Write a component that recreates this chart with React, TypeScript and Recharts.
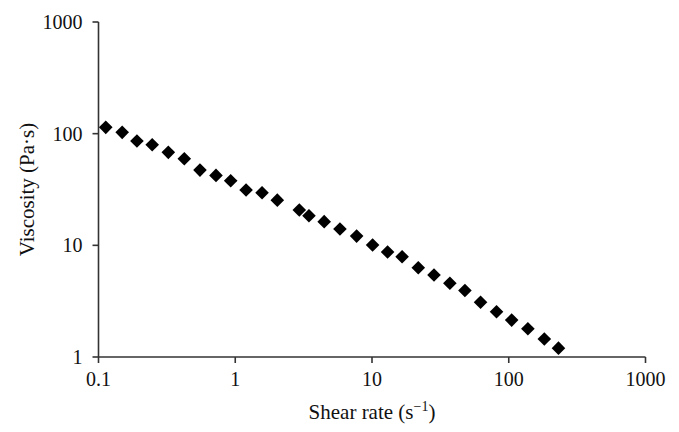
import React from "react";
import { ScatterChart, Scatter, XAxis, YAxis, Label } from "recharts";

const shearRate = [
  0.113, 0.149, 0.191, 0.247, 0.324, 0.424, 0.552, 0.723, 0.926, 1.2,
  1.57, 2.03, 2.94, 3.46, 4.47, 5.83, 7.72, 10.1, 13.0, 16.6,
  21.8, 28.4, 37.1, 47.8, 62.2, 81.4, 105, 138, 182, 231,
];
const viscosity = [
  113.9, 102.7, 85.9, 79.6, 68.0, 59.6, 47.2, 42.3, 37.9, 31.3,
  29.6, 25.4, 20.7, 18.4, 16.3, 14.0, 12.1, 10.06, 8.71, 7.91,
  6.3, 5.42, 4.57, 3.94, 3.09, 2.54, 2.14, 1.79, 1.45, 1.2,
];
const xTicks = [0.1, 1, 10, 100, 1000];
const yTicks = [1, 10, 100, 1000];
const xLabel = "Shear rate (s";
const xLabelSup = "\u22121";
const yLabel = "Viscosity (Pa\u00b7s)";

const data = shearRate.map((x, i) => ({ x, y: viscosity[i] }));

const FONT = "'Liberation Serif', 'DejaVu Serif', serif";
const AXIS = "#333";

const Diamond = (props: any) => {
  const { cx, cy } = props;
  const r = 6.8;
  return (
    <polygon
      points={`${cx},${cy - r} ${cx + r},${cy} ${cx},${cy + r} ${cx - r},${cy}`}
      fill="#000"
    />
  );
};

const XLabelContent = (props: any) => {
  const { viewBox } = props;
  const cx = viewBox.x + viewBox.width / 2;
  const y = viewBox.y + 62;
  return (
    <text x={cx} y={y} textAnchor="middle" fontFamily={FONT} fontSize={21} fill="#111">
      {xLabel}
      <tspan dy={-8} fontSize={14}>{xLabelSup}</tspan>
      <tspan dy={8}>)</tspan>
    </text>
  );
};

const YLabelContent = (props: any) => {
  const { viewBox } = props;
  const x = 34;
  const cy = viewBox.y + viewBox.height / 2;
  return (
    <text
      x={x}
      y={cy}
      textAnchor="middle"
      fontFamily={FONT}
      fontSize={21}
      fill="#111"
      transform={`rotate(-90 ${x} ${cy})`}
    >
      {yLabel}
    </text>
  );
};

export default function App() {
  return (
    <div style={{ position: "absolute", left: 0, top: 0, background: "#fff" }}>
      <ScatterChart
        width={679}
        height={432}
        margin={{ top: 22, right: 33.5, bottom: 35, left: 0 }}
      >
        <XAxis
          type="number"
          dataKey="x"
          scale="log"
          domain={[0.1, 1000]}
          ticks={xTicks}
          allowDataOverflow
          height={40}
          stroke={AXIS}
          strokeWidth={1.6}
          tickSize={6}
          tickMargin={9}
          tickLine={{ stroke: AXIS, strokeWidth: 1.6 }}
          tick={{ fontFamily: FONT, fontSize: 20, fill: "#111" }}
          tickFormatter={(v: number) => String(v)}
        >
          <Label content={<XLabelContent />} />
        </XAxis>
        <YAxis
          type="number"
          dataKey="y"
          scale="log"
          domain={[1, 1000]}
          ticks={yTicks}
          allowDataOverflow
          width={98.5}
          stroke={AXIS}
          strokeWidth={1.6}
          tickSize={6}
          tickMargin={10}
          tickLine={{ stroke: AXIS, strokeWidth: 1.6 }}
          tick={{ fontFamily: FONT, fontSize: 20, fill: "#111" }}
          tickFormatter={(v: number) => String(v)}
        >
          <Label content={<YLabelContent />} />
        </YAxis>
        <Scatter data={data} shape={<Diamond />} isAnimationActive={false} />
      </ScatterChart>
    </div>
  );
}
